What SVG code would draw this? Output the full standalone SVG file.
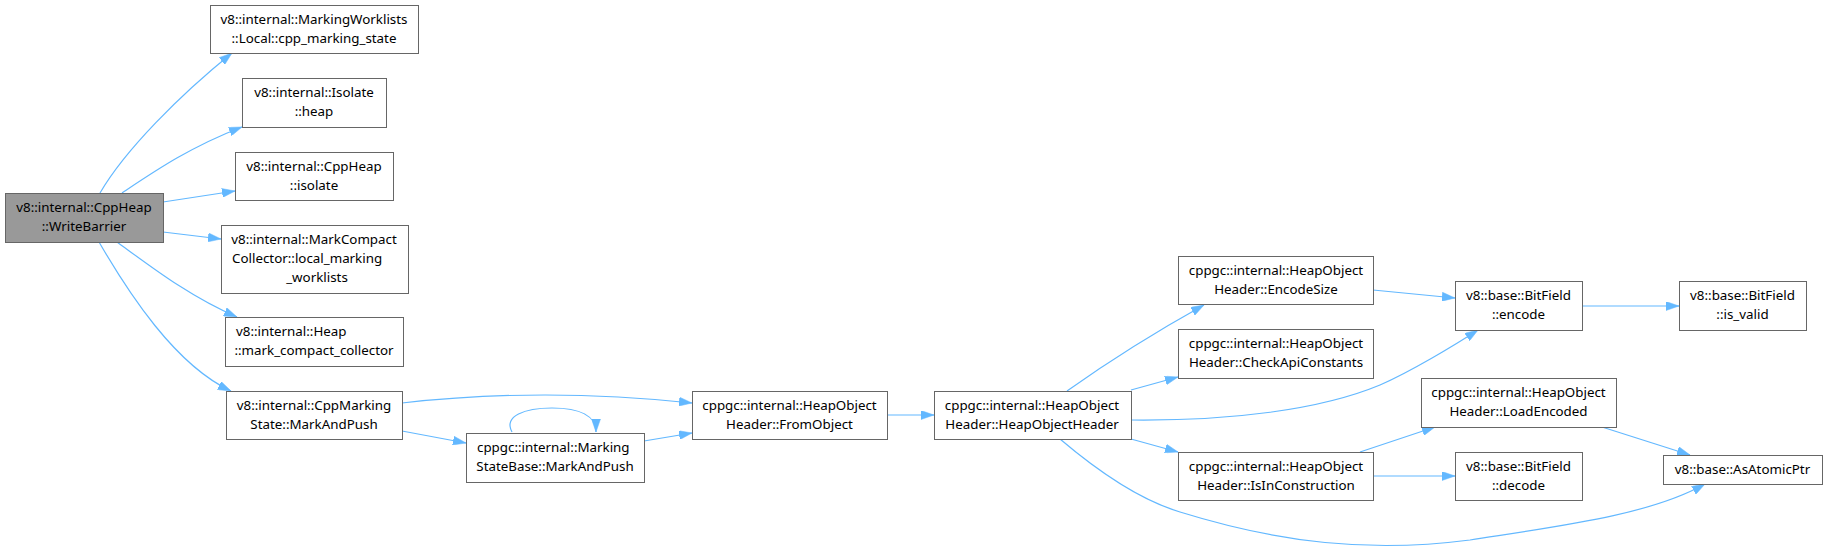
<svg xmlns="http://www.w3.org/2000/svg" width="1827" height="552" viewBox="0 0 1827 552">
<style>
.n rect{fill:#ffffff;stroke:#666666;stroke-width:1}
.n.hl rect{fill:#999999}
.n text{font-family:"Noto Sans","Open Sans","DejaVu Sans",sans-serif;font-size:13.35px;fill:#000000;text-anchor:middle}
.n text.l{text-anchor:start}
.e path{fill:none;stroke:#63b8ff;stroke-width:1.2;marker-end:url(#ah)}
</style>
<defs>
<marker id="ah" viewBox="0 0 13 9" refX="13" refY="4.5" markerWidth="13" markerHeight="9" markerUnits="userSpaceOnUse" orient="auto">
<path d="M0,0 L13,4.5 L0,9 z" fill="#63b8ff" stroke="#63b8ff" stroke-width="0.5"/>
</marker>
</defs>
<rect width="1827" height="552" fill="#ffffff"/>
<g id="edges" class="e">
<path d="M100,193 C125,150 180,95 232,53"/>
<path d="M122,193 C155,171 190,147 242,127"/>
<path d="M163,202 L235,191"/>
<path d="M163,232 L221,239"/>
<path d="M117,242 C150,266 190,297 237,317"/>
<path d="M99,242 C128,292 175,365 231,391"/>
<path d="M402,403 C490,393 590,392 692,403"/>
<path d="M402,431 L466,443"/>
<path d="M644,441 L692,433"/>
<path d="M512,432 C503,416 525,408 552,408 C580,408 596,416 596,432"/>
<path d="M887,415 L934,415"/>
<path d="M1067,391 C1105,364 1150,335 1204,305"/>
<path d="M1131,390 L1178,377"/>
<path d="M1131,420 C1230,421 1320,410 1380,385 C1410,372 1455,345 1478,330"/>
<path d="M1131,439 L1178,452"/>
<path d="M1060,439 C1100,473 1140,500 1180,512 C1280,543 1370,553 1470,540 C1560,526 1650,515 1705,484"/>
<path d="M1373,290 L1455,298"/>
<path d="M1582,306 L1679,306"/>
<path d="M1360,452 L1435,427"/>
<path d="M1373,476 L1455,476"/>
<path d="M1602,427 L1690,455"/>
</g>
<g id="n0" class="n hl"><rect x="5.5" y="193.5" width="158" height="49"/><text x="84" y="212">v8::internal::CppHeap</text><text x="84" y="231">::WriteBarrier</text></g>
<g id="n1" class="n"><rect x="210.5" y="5.5" width="208" height="48"/><text x="314" y="24">v8::internal::MarkingWorklists</text><text x="314" y="43">::Local::cpp_marking_state</text></g>
<g id="n2" class="n"><rect x="242.5" y="78.5" width="144" height="49"/><text x="314" y="97">v8::internal::Isolate</text><text x="314" y="116">::heap</text></g>
<g id="n3" class="n"><rect x="235.5" y="152.5" width="158" height="48"/><text x="314" y="171">v8::internal::CppHeap</text><text x="314" y="190">::isolate</text></g>
<g id="n4" class="n"><rect x="221.5" y="225.5" width="187" height="68"/><text x="314" y="244">v8::internal::MarkCompact</text><text class="l" x="232" y="263">Collector::local_marking</text><text x="317" y="282">_worklists</text></g>
<g id="n5" class="n"><rect x="225.5" y="317.5" width="178" height="49"/><text class="l" x="236" y="336">v8::internal::Heap</text><text x="314" y="355">::mark_compact_collector</text></g>
<g id="n6" class="n"><rect x="226.5" y="391.5" width="176" height="48"/><text x="314" y="410">v8::internal::CppMarking</text><text x="314" y="429">State::MarkAndPush</text></g>
<g id="n7" class="n"><rect x="466.5" y="433.5" width="178" height="49"/><text class="l" x="477" y="452">cppgc::internal::Marking</text><text x="555" y="471">StateBase::MarkAndPush</text></g>
<g id="n8" class="n"><rect x="692.5" y="391.5" width="195" height="48"/><text x="789.5" y="410">cppgc::internal::HeapObject</text><text x="789.5" y="429">Header::FromObject</text></g>
<g id="n9" class="n"><rect x="934.5" y="391.5" width="197" height="48"/><text x="1032" y="410">cppgc::internal::HeapObject</text><text x="1032" y="429">Header::HeapObjectHeader</text></g>
<g id="n10" class="n"><rect x="1178.5" y="256.5" width="195" height="48"/><text x="1276" y="275">cppgc::internal::HeapObject</text><text x="1276" y="294">Header::EncodeSize</text></g>
<g id="n11" class="n"><rect x="1178.5" y="329.5" width="195" height="49"/><text x="1276" y="348">cppgc::internal::HeapObject</text><text x="1276" y="367">Header::CheckApiConstants</text></g>
<g id="n12" class="n"><rect x="1178.5" y="452.5" width="195" height="48"/><text x="1276" y="471">cppgc::internal::HeapObject</text><text x="1276" y="490">Header::IsInConstruction</text></g>
<g id="n13" class="n"><rect x="1455.5" y="281.5" width="127" height="49"/><text x="1518.5" y="300">v8::base::BitField</text><text x="1518.5" y="319">::encode</text></g>
<g id="n14" class="n"><rect x="1679.5" y="281.5" width="127" height="49"/><text x="1742.5" y="300">v8::base::BitField</text><text x="1742.5" y="319">::is_valid</text></g>
<g id="n15" class="n"><rect x="1421.5" y="378.5" width="195" height="49"/><text x="1518.5" y="397">cppgc::internal::HeapObject</text><text x="1518.5" y="416">Header::LoadEncoded</text></g>
<g id="n16" class="n"><rect x="1455.5" y="452.5" width="127" height="48"/><text x="1518.5" y="471">v8::base::BitField</text><text x="1518.5" y="490">::decode</text></g>
<g id="n17" class="n"><rect x="1663.5" y="455.5" width="159" height="29"/><text x="1742.5" y="474">v8::base::AsAtomicPtr</text></g>
</svg>
